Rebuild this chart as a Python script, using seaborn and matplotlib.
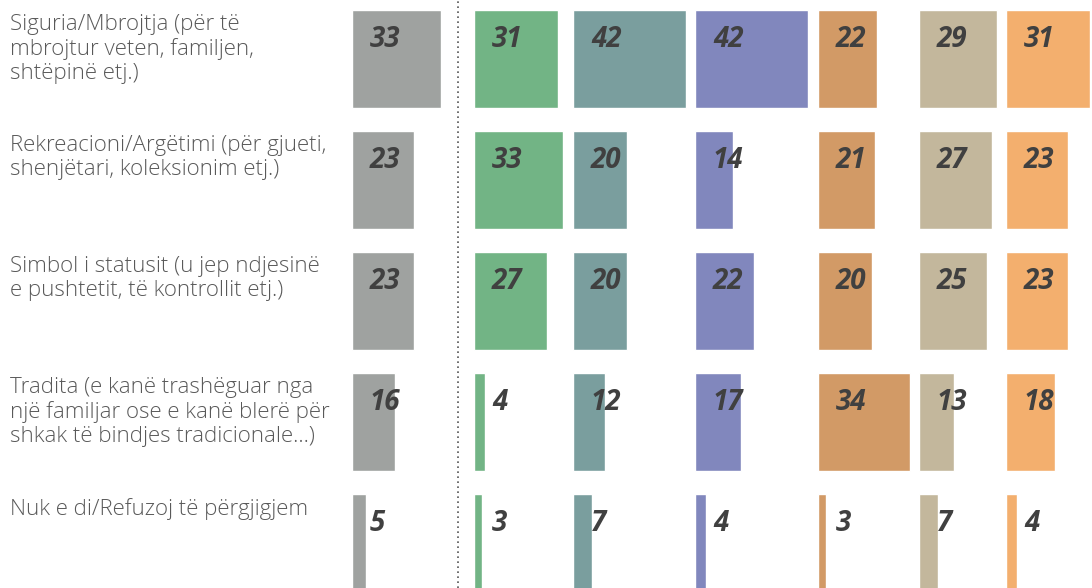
import pandas as pd
import matplotlib.pyplot as plt
import seaborn as sns
from matplotlib.transforms import blended_transform_factory
from matplotlib.lines import Line2D

# categories (rows) and one series per column
categories = [
    "Siguria/Mbrojtja (për të\nmbrojtur veten, familjen,\nshtëpinë etj.)",
    "Rekreacioni/Argëtimi (për gjueti,\nshenjëtari, koleksionim etj.)",
    "Simbol i statusit (u jep ndjesinë\ne pushtetit, të kontrollit etj.)",
    "Tradita (e kanë trashëguar nga\nnjë familjar ose e kanë blerë për\nshkak të bindjes tradicionale...)",
    "Nuk e di/Refuzoj të përgjigjem",
]
col_total = [33, 23, 23, 16, 5]
col_2 = [31, 33, 27, 4, 3]
col_3 = [42, 20, 20, 12, 7]
col_4 = [42, 14, 22, 17, 4]
col_5 = [22, 21, 20, 34, 3]
col_6 = [29, 27, 25, 13, 7]
col_7 = [31, 23, 23, 18, 4]

series = [col_total, col_2, col_3, col_4, col_5, col_6, col_7]
colors = ["#9fa2a0", "#72b485", "#7a9e9e", "#8187bd", "#d29a66", "#c3b79c", "#f3af6e"]

# layout (pixels)
W, H = 1092, 588
col_left_px = [352, 474, 573, 695, 818, 919, 1006]
px_per_unit = 2.7
row_pitch = 121
bar_frac = 98 / 121
row0_center = 59

sns.set_theme(style="white")
plt.rcParams['font.family'] = ['Open Sans', 'DejaVu Sans']

fig = plt.figure(figsize=(W / 100, H / 100), dpi=100)

ylim_top = -row0_center / row_pitch
ylim_bot = (H - row0_center) / row_pitch
xmax = 50

axes = []
for left, vals, c in zip(col_left_px, series, colors):
    ax = fig.add_axes([left / W, 0, xmax * px_per_unit / W, 1])
    ax.patch.set_alpha(0)
    df = pd.DataFrame({'cat': categories, 'val': vals})
    sns.barplot(data=df, x='val', y='cat', orient='h', color=c, width=bar_frac,
                saturation=1, ax=ax)
    ax.set_xlim(0, xmax)
    ax.set_ylim(ylim_bot, ylim_top)
    ax.axis('off')
    for i, v in enumerate(vals):
        ax.text(18 / px_per_unit, i - 0.16, str(v), ha='left', va='center',
                fontsize=20, fontweight='bold', fontstyle='italic', color='#404040')
    axes.append(ax)

# row labels
tr = blended_transform_factory(fig.transFigure, axes[0].transData)
for i, lab in enumerate(categories):
    axes[0].text(10 / W, i - bar_frac / 2 + 0.03, lab, transform=tr, ha='left', va='top',
                 fontsize=16, fontweight='light', color='#595959', linespacing=1.18)

# dotted separator after the first column
fig.add_artist(Line2D([458 / W, 458 / W], [0, 1], transform=fig.transFigure,
                      ls=(0, (1, 2)), color='#555555', lw=1.2))

fig.savefig('out.png', dpi=100, facecolor='white')
